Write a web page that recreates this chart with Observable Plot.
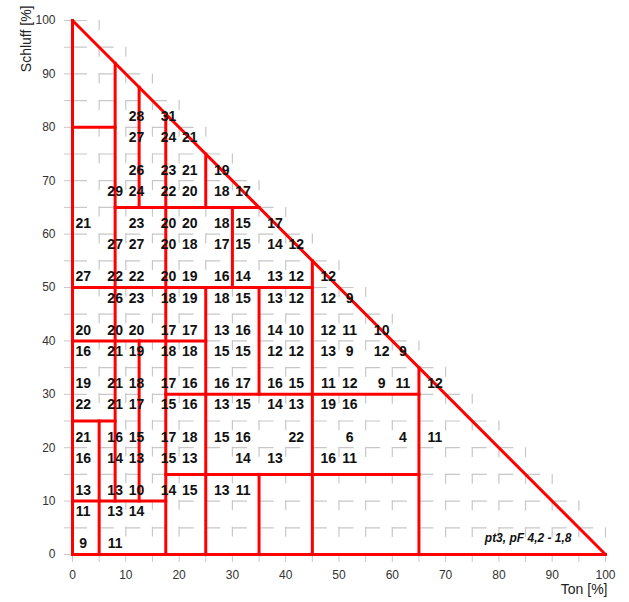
<!DOCTYPE html>
<html>
<head>
<meta charset="utf-8">
<script src="https://cdn.jsdelivr.net/npm/d3@7"></script>
<script src="https://cdn.jsdelivr.net/npm/@observablehq/plot@0.6"></script>
<style>
  html, body { margin: 0; padding: 0; background: #fff; }
  #chart { width: 629px; height: 602px; }
</style>
</head>
<body>
<div id="chart"></div>
<script>
// Schluff (silt %) of each row of values
const rowSchluff = [82, 78, 72, 68, 62, 58, 52, 48, 42, 38, 32, 28, 22, 18, 12, 8, 2];
// Ton (clay %) positions of the values in each row
const rowTon = [
  [12, 18],
  [12, 18, 22],
  [12, 18, 22, 28],
  [8, 12, 18, 22, 28, 32],
  [2, 12, 18, 22, 28, 32, 38],
  [8, 12, 18, 22, 28, 32, 38, 42],
  [2, 8, 12, 18, 22, 28, 32, 38, 42, 48],
  [8, 12, 18, 22, 28, 32, 38, 42, 48, 52],
  [2, 8, 12, 18, 22, 28, 32, 38, 42, 48, 52, 58],
  [2, 8, 12, 18, 22, 28, 32, 38, 42, 48, 52, 58, 62],
  [2, 8, 12, 18, 22, 28, 32, 38, 42, 48, 52, 58, 62, 68],
  [2, 8, 12, 18, 22, 28, 32, 38, 42, 48, 52],
  [2, 8, 12, 18, 22, 28, 32, 42, 52, 62, 68],
  [2, 8, 12, 18, 22, 32, 38, 48, 52],
  [2, 8, 12, 18, 22, 28, 32],
  [2, 8, 12],
  [2, 8]
];
// values (pF 4,2 - 1,8)
const rowValues = [
  [28, 31],
  [27, 24, 21],
  [26, 23, 21, 19],
  [29, 24, 22, 20, 18, 17],
  [21, 23, 20, 20, 18, 15, 17],
  [27, 27, 20, 18, 17, 15, 14, 12],
  [27, 22, 22, 20, 19, 16, 14, 13, 12, 12],
  [26, 23, 18, 19, 18, 15, 13, 12, 12, 9],
  [20, 20, 20, 17, 17, 13, 16, 14, 10, 12, 11, 10],
  [16, 21, 19, 18, 18, 15, 15, 12, 12, 13, 9, 12, 9],
  [19, 21, 18, 17, 16, 16, 17, 16, 15, 11, 12, 9, 11, 12],
  [22, 21, 17, 15, 16, 13, 15, 14, 13, 19, 16],
  [21, 16, 15, 17, 18, 15, 16, 22, 6, 4, 11],
  [16, 14, 13, 15, 13, 14, 13, 16, 11],
  [13, 13, 10, 14, 15, 13, 11],
  [11, 13, 14],
  [9, 11]
];
// class boundaries: horizontal [schluff, tonFrom, tonTo]
const hBounds = [
  [0, 0, 100], [10, 0, 17.5], [15, 17.5, 65], [25, 0, 8], [30, 17.5, 65],
  [40, 0, 25], [50, 0, 45], [65, 8, 35], [80, 0, 8]
];
// class boundaries: vertical [ton, schluffFrom, schluffTo]
const vBounds = [
  [0, 0, 100], [5, 0, 25], [8, 10, 92], [12.5, 10, 40], [12.5, 65, 87.5],
  [17.5, 0, 82.5], [25, 0, 50], [25, 65, 75], [30, 50, 65], [35, 0, 15],
  [35, 30, 50], [45, 0, 55], [65, 0, 35]
];
// triangle hypotenuse [ton1, schluff1, ton2, schluff2]
const hypotenuse = [[0, 100, 100, 0]];
const gridSteps = [0,5,10,15,20,25,30,35,40,45,50,55,60,65,70,75,80,85,90,95,100];
const note = "pt3, pF 4,2 - 1,8";
const xTitle = "Ton [%]";
const yTitle = "Schluff [%]";

const cells = [];
rowSchluff.forEach((s, i) => rowTon[i].forEach((t, j) => cells.push({ton: t, schluff: s, value: rowValues[i][j]})));

const red = "#ff0000";
const gridColor = "#c8c8c8";

const chart = Plot.plot({
  width: 629,
  height: 602,
  marginLeft: 72,
  marginRight: 24,
  marginTop: 20,
  marginBottom: 48,
  x: {domain: [0, 100]},
  y: {domain: [0, 100]},
  style: {fontFamily: "'Liberation Sans', Arial, sans-serif", background: "#fff", color: "#333"},
  marks: [
    Plot.ruleY(gridSteps, {y: d => d, x1: 0, x2: d => Math.min(100, 105 - d), stroke: gridColor, strokeWidth: 1.2, strokeDasharray: "15,11.65"}),
    Plot.ruleX(gridSteps, {x: d => d, y1: d => Math.min(100, 105 - d), y2: 0, stroke: gridColor, strokeWidth: 1.2, strokeDasharray: "10,16.65"}),
    Plot.axisX({ticks: gridSteps, tickSize: 8, tickPadding: 8, stroke: gridColor, fill: "#333", fontSize: 12,
      tickFormat: d => (d % 10 === 0 ? String(d) : ""), label: null}),
    Plot.axisY({ticks: gridSteps, tickSize: 8, tickPadding: 9, stroke: gridColor, fill: "#333", fontSize: 12,
      tickFormat: d => (d % 10 === 0 ? String(d) : ""), label: null}),
    Plot.link(hBounds, {x1: d => d[1], x2: d => d[2], y1: d => d[0], y2: d => d[0], stroke: red, strokeWidth: 3, strokeLinecap: "square"}),
    Plot.link(vBounds, {x1: d => d[0], x2: d => d[0], y1: d => d[1], y2: d => d[2], stroke: red, strokeWidth: 3, strokeLinecap: "square"}),
    Plot.link(hypotenuse, {x1: d => d[0], y1: d => d[1], x2: d => d[2], y2: d => d[3], stroke: red, strokeWidth: 3}),
    Plot.text(cells, {x: "ton", y: "schluff", text: d => String(d.value), fill: "#111", fontWeight: "bold", fontSize: 14}),
    Plot.text([note], {frameAnchor: "bottom-right", text: d => d, dx: -34, dy: -13, textAnchor: "end", fill: "#111", fontWeight: "bold", fontStyle: "italic", fontSize: 12}),
    Plot.text([xTitle], {frameAnchor: "bottom-right", text: d => d, dx: 2, dy: 39, textAnchor: "end", fill: "#222", fontSize: 14}),
    Plot.text([yTitle], {frameAnchor: "top-left", text: d => d, dx: -51, dy: -15, rotate: -90, textAnchor: "end", fill: "#222", fontSize: 14})
  ]
});
document.getElementById("chart").appendChild(chart);
</script>
</body>
</html>
